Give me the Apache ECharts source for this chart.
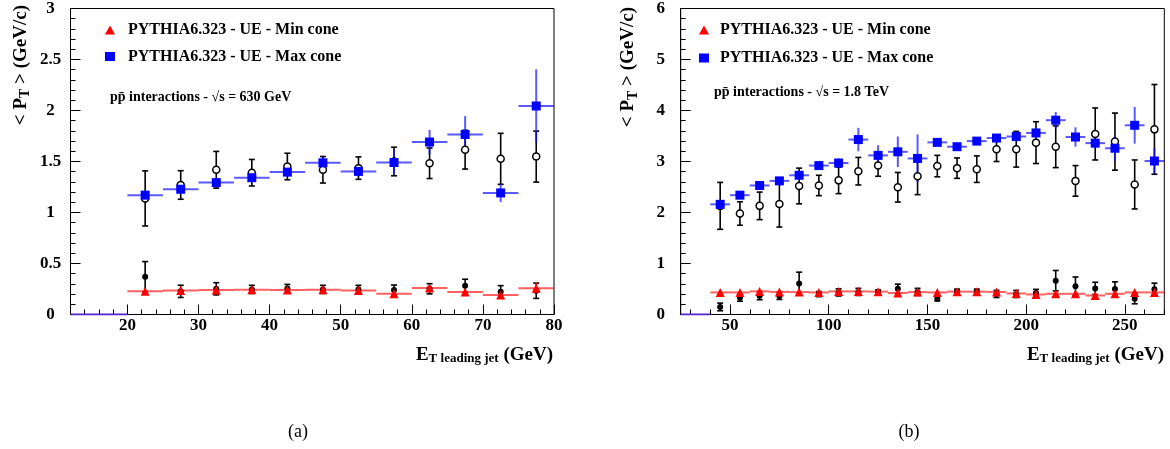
<!DOCTYPE html>
<html><head><meta charset="utf-8">
<script src="https://cdn.jsdelivr.net/npm/echarts@6/dist/echarts.min.js"></script>
<style>html,body{margin:0;padding:0;background:#fff}#c{width:1170px;height:449px}</style>
</head><body><div id="c"></div>
<script>
// ---------- Panel (a): sqrt(s) = 630 GeV ----------
const binCentersA = [22.5, 27.5, 32.5, 37.5, 42.5, 47.5, 52.5, 57.5, 62.5, 67.5, 72.5, 77.5];
const binWidthA = 5;
const emptyBinsA = [12, 20];
const maxConeA    = [1.170, 1.228, 1.293, 1.341, 1.396, 1.487, 1.403, 1.490, 1.691, 1.765, 1.192, 2.044];
const maxConeErrA = [0.03, 0.04, 0.04, 0.04, 0.04, 0.06, 0.05, 0.12, 0.12, 0.18, 0.09, 0.36];
const dataMaxA    = [1.138, 1.270, 1.419, 1.390, 1.451, 1.419, 1.435, 1.500, 1.483, 1.616, 1.526, 1.548];
const dataMaxErrA = [0.27, 0.14, 0.18, 0.13, 0.13, 0.13, 0.11, 0.14, 0.15, 0.19, 0.25, 0.25];
const minConeA    = [0.227, 0.236, 0.239, 0.243, 0.239, 0.243, 0.236, 0.203, 0.259, 0.220, 0.191, 0.257];
const minConeErrA = [0.01, 0.01, 0.01, 0.01, 0.01, 0.01, 0.01, 0.01, 0.02, 0.02, 0.02, 0.06];
const dataMinA    = [0.369, 0.227, 0.252, 0.246, 0.255, 0.246, 0.246, 0.239, 0.252, 0.281, 0.223, 0.233];
const dataMinErrA = [0.15, 0.06, 0.06, 0.04, 0.04, 0.04, 0.04, 0.05, 0.05, 0.065, 0.06, 0.075];
const xMajorA = [20, 30, 40, 50, 60, 70, 80];
const xMinorA = [14, 16, 18, 22, 24, 26, 28, 32, 34, 36, 38, 42, 44, 46, 48, 52, 54, 56, 58, 62, 64, 66, 68, 72, 74, 76, 78];

// ---------- Panel (b): sqrt(s) = 1.8 TeV ----------
const binCentersB = [45, 55, 65, 75, 85, 95, 105, 115, 125, 135, 145, 155, 165, 175, 185, 195, 205, 215, 225, 235, 245, 255, 265];
const binWidthB = 10;
const emptyBinsB = [25, 40];
const maxConeB    = [2.16, 2.34, 2.53, 2.62, 2.73, 2.92, 2.97, 3.43, 3.12, 3.19, 3.06, 3.375, 3.29, 3.40, 3.46, 3.49, 3.56, 3.81, 3.48, 3.36, 3.26, 3.71, 3.01];
const maxConeErrB = [0.04, 0.04, 0.04, 0.05, 0.07, 0.07, 0.09, 0.23, 0.20, 0.30, 0.47, 0.04, 0.04, 0.05, 0.07, 0.10, 0.10, 0.16, 0.19, 0.10, 0.25, 0.36, 0.26];
const dataMaxB    = [2.13, 1.98, 2.13, 2.165, 2.52, 2.53, 2.63, 2.81, 2.92, 2.495, 2.71, 2.91, 2.87, 2.85, 3.24, 3.24, 3.37, 3.29, 2.62, 3.54, 3.39, 2.55, 3.63];
const dataMaxErrB = [0.46, 0.23, 0.27, 0.45, 0.35, 0.20, 0.26, 0.27, 0.21, 0.29, 0.36, 0.21, 0.20, 0.26, 0.24, 0.35, 0.41, 0.41, 0.30, 0.51, 0.56, 0.48, 0.88];
const minConeB    = [0.433, 0.433, 0.453, 0.443, 0.439, 0.433, 0.453, 0.453, 0.448, 0.423, 0.439, 0.433, 0.448, 0.448, 0.443, 0.413, 0.393, 0.406, 0.406, 0.373, 0.406, 0.433, 0.433];
const minConeErrB = [0.02, 0.02, 0.02, 0.02, 0.02, 0.02, 0.02, 0.02, 0.02, 0.02, 0.02, 0.02, 0.02, 0.02, 0.02, 0.02, 0.02, 0.02, 0.02, 0.02, 0.02, 0.03, 0.05];
const dataMinB    = [0.148, 0.33, 0.37, 0.365, 0.61, 0.40, 0.433, 0.443, 0.433, 0.505, 0.443, 0.316, 0.448, 0.448, 0.403, 0.403, 0.423, 0.663, 0.556, 0.512, 0.50, 0.31, 0.495];
const dataMinErrB = [0.075, 0.07, 0.08, 0.07, 0.22, 0.05, 0.07, 0.07, 0.05, 0.09, 0.07, 0.05, 0.05, 0.05, 0.07, 0.07, 0.07, 0.20, 0.18, 0.12, 0.14, 0.10, 0.12];
const xMajorB = [50, 100, 150, 200, 250];
const xMinorB = [30, 40, 60, 70, 80, 90, 110, 120, 130, 140, 160, 170, 180, 190, 210, 220, 230, 240, 260, 270];

const nameMin = 'PYTHIA6.323 - UE - Min cone';
const nameMax = 'PYTHIA6.323 - UE - Max cone';
const SERIF = 'Liberation Serif';

function zip3(xs, ys, es) { return xs.map((x, i) => [x, ys[i], es[i]]); }
function zip2(xs, ys) { return xs.map((x, i) => [x, ys[i]]); }

function binBarRender(binW, color, lw) {
  return function (params, api) {
    const x = api.value(0), y = api.value(1), e = api.value(2);
    const l = api.coord([x - binW / 2, y]), r = api.coord([x + binW / 2, y]);
    const t = api.coord([x, y + e]), b = api.coord([x, y - e]);
    return { type: 'group', children: [
      { type: 'line', shape: { x1: l[0], y1: l[1], x2: r[0], y2: r[1] }, style: { stroke: color, lineWidth: lw } },
      { type: 'line', shape: { x1: t[0], y1: t[1], x2: b[0], y2: b[1] }, style: { stroke: color, lineWidth: lw } }
    ]};
  };
}
function capErrRender(capHalf) {
  return function (params, api) {
    const x = api.value(0), y = api.value(1), e = api.value(2);
    const t = api.coord([x, y + e]), b = api.coord([x, y - e]);
    const st = { stroke: '#000', lineWidth: 1.6 };
    return { type: 'group', children: [
      { type: 'line', shape: { x1: t[0], y1: t[1], x2: b[0], y2: b[1] }, style: st },
      { type: 'line', shape: { x1: t[0] - capHalf, y1: t[1], x2: t[0] + capHalf, y2: t[1] }, style: st },
      { type: 'line', shape: { x1: b[0] - capHalf, y1: b[1], x2: b[0] + capHalf, y2: b[1] }, style: st }
    ]};
  };
}

function panelSeries(xi, yi, p) {
  const base = { xAxisIndex: xi, yAxisIndex: yi, silent: true, animation: false };
  return [
    Object.assign({}, base, { type: 'line', name: 'empty', data: p.empty.map(v => [v, 0]), symbol: 'none',
      lineStyle: { color: '#5522cc', width: 2 } }),
    Object.assign({}, base, { type: 'custom', name: 'errMaxData', data: zip3(p.x, p.dMax, p.dMaxE),
      renderItem: capErrRender(3), encode: { x: 0, y: 1 } }),
    Object.assign({}, base, { type: 'scatter', name: 'dataMax', data: zip2(p.x, p.dMax), symbol: 'circle', symbolSize: 7,
      itemStyle: { color: '#fff', borderColor: '#000', borderWidth: 1.5, opacity: 1 } }),
    Object.assign({}, base, { type: 'custom', name: 'barsMax', data: zip3(p.x, p.max, p.maxE),
      renderItem: binBarRender(p.w, 'rgba(20,20,255,0.7)', 2), encode: { x: 0, y: 1 } }),
    Object.assign({}, base, { type: 'scatter', name: nameMax, data: zip2(p.x, p.max), symbol: 'rect', symbolSize: 9,
      itemStyle: { color: '#0000ff', opacity: 1 } }),
    Object.assign({}, base, { type: 'custom', name: 'errMinData', data: zip3(p.x, p.dMin, p.dMinE),
      renderItem: capErrRender(3), encode: { x: 0, y: 1 } }),
    Object.assign({}, base, { type: 'scatter', name: 'dataMin', data: zip2(p.x, p.dMin), symbol: 'circle', symbolSize: 6,
      itemStyle: { color: '#000', opacity: 1 } }),
    Object.assign({}, base, { type: 'custom', name: 'barsMin', data: zip3(p.x, p.min, p.minE),
      renderItem: binBarRender(p.w, 'rgba(255,30,30,0.7)', 2), encode: { x: 0, y: 1 } }),
    Object.assign({}, base, { type: 'scatter', name: nameMin, data: zip2(p.x, p.min), symbol: 'triangle', symbolSize: 9,
      itemStyle: { color: '#ff0000', opacity: 1 } })
  ];
}

const labelStyle = { fontFamily: SERIF, fontWeight: 'bold', fontSize: 17, color: '#000' };

function xAxesFor(gi, min, max, major, minor) {
  return [
    { gridIndex: gi, type: 'value', position: 'bottom', min: min, max: max,
      axisLine: { show: true, onZero: false, lineStyle: { color: '#000', width: 1 } },
      axisTick: { show: true, inside: true, length: 10, customValues: major, lineStyle: { color: '#000' } },
      axisLabel: Object.assign({ show: true, margin: 3, customValues: major }, labelStyle),
      splitLine: { show: false } },
    { gridIndex: gi, type: 'value', position: 'bottom', min: min, max: max,
      axisLine: { show: false },
      axisTick: { show: true, inside: true, length: 5, customValues: minor, lineStyle: { color: '#000' } },
      axisLabel: { show: false }, splitLine: { show: false } }
  ];
}
function yAxisFor(gi, max, interval) {
  return { gridIndex: gi, type: 'value', min: 0, max: max, interval: interval,
    axisLine: { show: true, lineStyle: { color: '#000', width: 1 } },
    axisTick: { show: true, inside: true, length: 10, lineStyle: { color: '#000' } },
    minorTick: { show: true, splitNumber: 5, length: 5, lineStyle: { color: '#000' } },
    axisLabel: Object.assign({ margin: 20, align: 'center' }, labelStyle),
    splitLine: { show: false }, minorSplitLine: { show: false } };
}

const pA = { x: binCentersA, w: binWidthA, empty: emptyBinsA, max: maxConeA, maxE: maxConeErrA, dMax: dataMaxA, dMaxE: dataMaxErrA,
  min: minConeA, minE: minConeErrA, dMin: dataMinA, dMinE: dataMinErrA };
const pB = { x: binCentersB, w: binWidthB, empty: emptyBinsB, max: maxConeB, maxE: maxConeErrB, dMax: dataMaxB, dMaxE: dataMaxErrB,
  min: minConeB, minE: minConeErrB, dMin: dataMinB, dMinE: dataMinErrB };

function legendFor(left, top, gap, pad) {
  return { show: true, left: left, top: top, orient: 'vertical', padding: 0, itemGap: gap,
    itemWidth: 10, itemHeight: 9, selectedMode: false,
    itemStyle: { opacity: 1 },
    data: [{ name: nameMin, icon: 'triangle' }, { name: nameMax, icon: 'rect' }],
    textStyle: { fontFamily: SERIF, fontWeight: 'bold', fontSize: 16, lineHeight: 16, color: '#000', padding: [0, 0, 0, pad] } };
}

function yTitle(x, y) {
  return { type: 'text', x: x, y: y, rotation: Math.PI / 2, silent: true,
    style: { text: '{a|< P}{s|T}{a| > (GeV/c)}', align: 'right', verticalAlign: 'middle',
      rich: { a: { fontFamily: SERIF, fontWeight: 'bold', fontSize: 19, fill: '#000' },
              s: { fontFamily: SERIF, fontWeight: 'bold', fontSize: 14, fill: '#000', padding: [9, 0, 0, 0] } } } };
}
function xTitle(x, y) {
  return { type: 'text', x: x, y: y, silent: true,
    style: { text: '{a|E}{s|T leading jet}{a| (GeV)}', align: 'right', verticalAlign: 'middle',
      rich: { a: { fontFamily: SERIF, fontWeight: 'bold', fontSize: 19, fill: '#000' },
              s: { fontFamily: SERIF, fontWeight: 'bold', fontSize: 13, fill: '#000', padding: [8, 0, 0, 0] } } } };
}
function plainText(x, y, text, size, weight, align) {
  return { type: 'text', x: x, y: y, silent: true,
    style: { text: text, fontFamily: SERIF, fontWeight: weight, fontSize: size, fill: '#000', align: align, verticalAlign: 'middle' } };
}

const option = {
  animation: false,
  backgroundColor: '#fff',
  grid: [
    { left: 70.5, top: 7, width: 483.5, height: 307.5, show: true, borderColor: '#000', borderWidth: 1, backgroundColor: 'transparent' },
    { left: 680.7, top: 7, width: 483.6, height: 307.5, show: true, borderColor: '#000', borderWidth: 1, backgroundColor: 'transparent' }
  ],
  xAxis: [].concat(xAxesFor(0, 12, 80, xMajorA, xMinorA), xAxesFor(1, 25, 270, xMajorB, xMinorB)),
  yAxis: [yAxisFor(0, 3, 0.5), yAxisFor(1, 6, 1)],
  legend: [legendFor(105, 22, 10.5, 8), legendFor(699, 22, 12, 6)],
  series: [].concat(panelSeries(0, 0, pA), panelSeries(2, 1, pB)),
  graphic: [
    yTitle(21, 5), yTitle(628.5, 7),
    xTitle(553, 355), xTitle(1164, 355),
    plainText(110, 97, 'pp\u0304 interactions - \u221As = 630 GeV', 14, 'bold', 'left'),
    plainText(714, 92, 'pp\u0304 interactions - \u221As = 1.8 TeV', 14, 'bold', 'left'),
    plainText(298, 432, '(a)', 18, 'normal', 'center'),
    plainText(909, 432, '(b)', 18, 'normal', 'center')
  ]
};
const chart = echarts.init(document.getElementById('c'));
chart.setOption(option);
</script></body></html>
